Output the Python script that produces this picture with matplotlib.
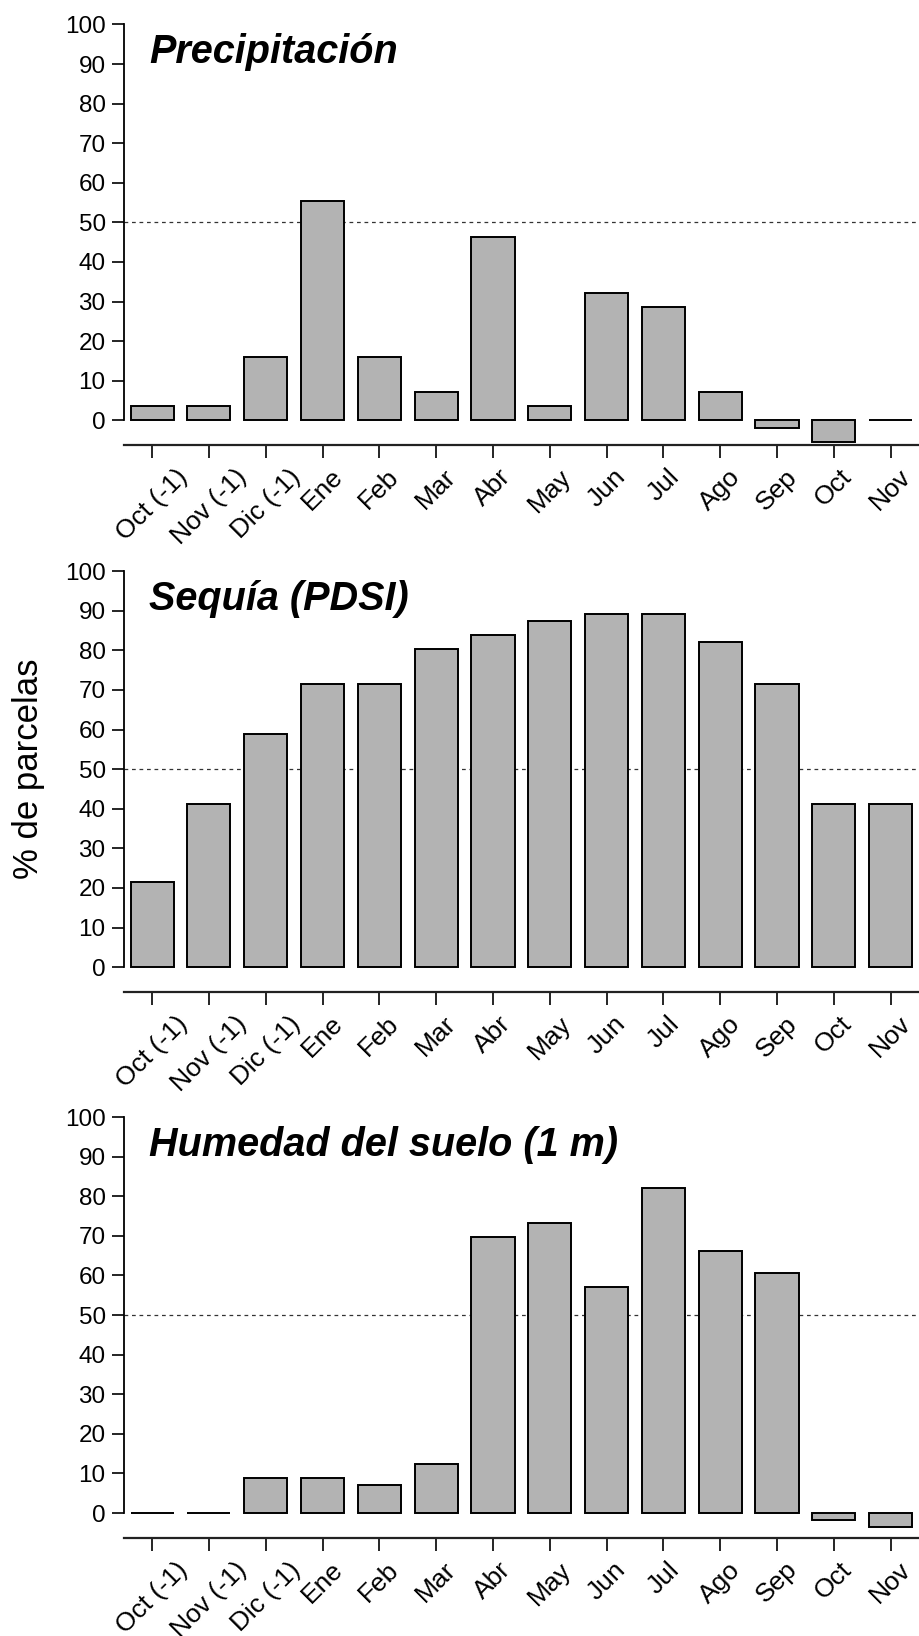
import numpy as np
import matplotlib
matplotlib.use("Agg")
import matplotlib.pyplot as plt

plt.rcParams["font.family"] = ["Liberation Sans", "DejaVu Sans"]

months = ["Oct (-1)", "Nov (-1)", "Dic (-1)", "Ene", "Feb", "Mar", "Abr",
          "May", "Jun", "Jul", "Ago", "Sep", "Oct", "Nov"]

precip = [3.6, 3.6, 16.1, 55.4, 16.1, 7.1, 46.4, 3.6, 32.1, 28.6, 7.1, -1.8, -5.4, 0.0]
pdsi = [21.4, 41.1, 58.9, 71.4, 71.4, 80.4, 83.9, 87.5, 89.3, 89.3, 82.1, 71.4, 41.1, 41.1]
humedad = [0.0, 0.0, 8.9, 8.9, 7.1, 12.5, 69.6, 73.2, 57.1, 82.1, 66.1, 60.7, -1.8, -3.6]

titles = ["Precipitación", "Sequía (PDSI)", "Humedad del suelo (1 m)"]
series = [precip, pdsi, humedad]

GRAY = "#b3b3b3"

fig = plt.figure(figsize=(9.19, 16.36), dpi=100)
bottoms = [0.7278, 0.3936, 0.0599]
h = 0.258

x = np.arange(len(months))
for b, vals, ttl in zip(bottoms, series, titles):
    ax = fig.add_axes([0.1346, b, 0.8654, h])
    ax.bar(x, vals, width=0.76, color=GRAY, edgecolor="black", linewidth=1.4, zorder=3)
    ax.axhline(50, color="#333333", lw=0.9, ls=(0, (3, 3)), zorder=2)
    ax.set_xlim(-0.5, 13.5)
    ax.set_ylim(-6.3, 100.3)
    ax.set_yticks(np.arange(0, 101, 10))
    ax.set_xticks(x)
    ax.set_xticklabels(months, rotation=45, ha="center", va="top")
    for s in ("top", "right"):
        ax.spines[s].set_visible(False)
    ax.spines["left"].set_bounds(0, 100)
    ax.spines["left"].set_linewidth(1.3)
    ax.spines["bottom"].set_linewidth(1.6)
    ax.spines["bottom"].set_color("#222222")
    ax.tick_params(axis="y", length=9, width=1.2, labelsize=17.5, pad=4)
    ax.tick_params(axis="x", length=9, width=1.2, labelsize=19, pad=5)
    ax.text(-0.05, 93, ttl, fontsize=28.5, fontweight="bold", fontstyle="italic",
            ha="left", va="center", transform=ax.transData)

fig.text(0.031, 0.53, "% de parcelas", rotation=90, fontsize=25,
         ha="center", va="center")

fig.savefig("out.png", dpi=100)
